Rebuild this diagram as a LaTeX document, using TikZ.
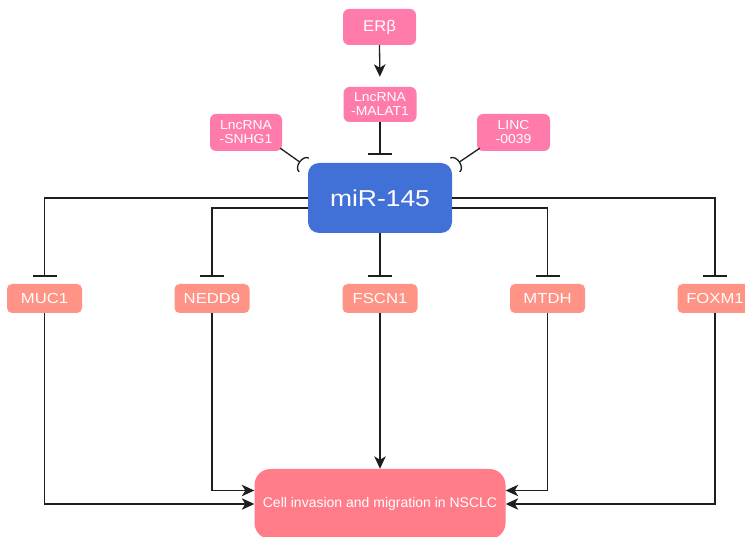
\documentclass[tikz,border=0pt]{standalone}
\usepackage{fontspec}
\setmainfont{Liberation Sans}
\newfontfamily\wfont[FakeStretch=1.15]{Liberation Sans}
\newfontfamily\mfont[FakeStretch=1.07]{Liberation Sans}
\usetikzlibrary{arrows.meta}
\definecolor{pinkn}{RGB}{255,123,172}
\definecolor{bluen}{RGB}{65,113,214}
\definecolor{salmonn}{RGB}{255,147,133}
\definecolor{rosen}{RGB}{255,124,136}
\definecolor{linec}{RGB}{30,30,30}
\begin{document}
\begin{tikzpicture}[x=1pt,y=-1pt,
  box/.style={text=white, inner sep=0pt, align=center, draw=none},
  topbox/.style={box, rounded corners=6pt, fill=pinkn, minimum width=73pt, minimum height=36pt, font=\mfont\fontsize{13}{14}\selectfont},
  mirbox/.style={box, rounded corners=11pt, fill=bluen, minimum width=144pt, minimum height=70pt, font=\wfont\fontsize{23}{26}\selectfont},
  genebox/.style={box, rounded corners=5pt, fill=salmonn, minimum width=75pt, minimum height=29pt, font=\wfont\fontsize{14.5}{16}\selectfont},
  endbox/.style={box, rounded corners=16pt, fill=rosen, minimum width=251pt, minimum height=70pt, font=\fontsize{14}{16}\selectfont},
  conn/.style={line width=1.3pt, draw=linec},
  act/.style={conn, -{Stealth[length=12.5pt,width=11.5pt,inset=3.5pt]}},
  inh/.style={conn, -{Bar[width=24pt]}},
  half/.style={conn, -{Arc Barb[reversed,width=18pt,length=6pt]}}
]
\useasboundingbox (0,0) rectangle (745,537);

\node[topbox] (erb) at (379.5,27) {\fontsize{15.5}{18}\selectfont ERβ};
\node[topbox, minimum height=35pt] (malat) at (380,104.5) {LncRNA\\-MALAT1};
\node[topbox, minimum width=72pt, minimum height=37pt] (snhg) at (246,132.5) {LncRNA\\-SNHG1};
\node[topbox, minimum height=37pt] (linc) at (513.5,132.5) {LINC\\-0039};
\node[mirbox] (mir) at (380,198) {miR-145};

\node[genebox] (muc) at (44.5,298.5) {MUC1};
\node[genebox] (nedd) at (212,298.5) {NEDD9};
\node[genebox] (fscn) at (380,298.5) {FSCN1};
\node[genebox] (mtdh) at (547.5,298.5) {MTDH};
\node[genebox] (foxm) at (715,298.5) {FOXM1};

\node[endbox] (cell) at (380,504) {Cell invasion and migration in NSCLC};

\coordinate (tl) at (304,165);
\coordinate (tr) at (455,165);

\draw[act, shorten >=10pt] (erb.south) -- (malat.north);
\draw[inh, shorten >=8pt] (malat.south) -- (mir.north);
\draw[half] ([xshift=-2pt,yshift=3pt]snhg.south east) -- (tl);
\draw[half] ([xshift=3pt,yshift=3pt]linc.south west) -- (tr);

\draw[inh, shorten >=7pt] (mir.west) -| (muc.north);
\draw[inh, shorten >=7pt] ([yshift=-10pt]mir.west) -| (nedd.north);
\draw[inh, shorten >=7pt] (mir.south) -- (fscn.north);
\draw[inh, shorten >=7pt] ([yshift=-10pt]mir.east) -| (mtdh.north);
\draw[inh, shorten >=7pt] (mir.east) -| (foxm.north);

\draw[act] (muc.south) |- (cell.west);
\draw[act] (nedd.south) |- ([yshift=13.5pt]cell.west);
\draw[act] (fscn.south) -- (cell.north);
\draw[act] (mtdh.south) |- ([yshift=13.5pt]cell.east);
\draw[act] (foxm.south) |- (cell.east);
\end{tikzpicture}
\end{document}
